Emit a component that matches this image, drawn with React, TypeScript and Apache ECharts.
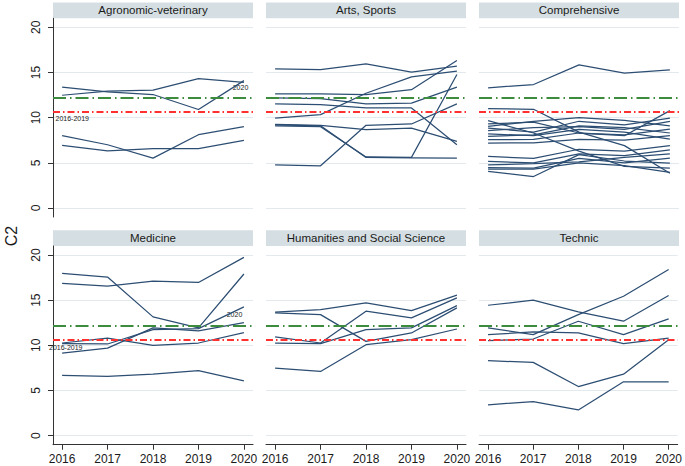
import React, { useEffect, useRef } from "react";
import * as echarts from "echarts";

const years = [2016, 2017, 2018, 2019, 2020];
const yTicks = [0, 5, 10, 15, 20];
const panelTitles = [
  "Agronomic-veterinary",
  "Arts, Sports",
  "Comprehensive",
  "Medicine",
  "Humanities and Social Science",
  "Technic",
];
const refGreen = 12.2;
const refRed = 10.6;

const agronomic = [
  [13.37, 12.85, 12.56, 10.9, 14.1],
  [12.48, 12.93, 13.04, 14.33, 13.9],
  [8.0, 7.0, 5.52, 8.11, 9.0],
  [6.93, 6.33, 6.56, 6.56, 7.48],
];

const arts = [
  [15.4, 15.33, 15.96, 15.04, 15.7],
  [12.63, 12.63, 12.55, 13.1, 16.33],
  [9.96, 10.33, 12.7, 14.52, 15.15],
  [12.19, 12.1, 11.52, 11.6, 13.37],
  [11.52, 11.44, 11.07, 11.07, 7.0],
  [9.2, 9.1, 5.6, 5.55, 5.52],
  [9.1, 9.0, 5.65, 5.6, 14.78],
  [9.25, 9.15, 8.67, 8.85, 7.37],
  [4.78, 4.67, 9.15, 9.3, 11.52],
];

const comprehensive = [
  [13.3, 13.67, 15.85, 14.93, 15.3],
  [11.0, 10.93, 8.4, 6.9, 3.85],
  [9.67, 8.3, 6.3, 4.6, 4.4],
  [9.3, 9.5, 8.3, 8.0, 10.78],
  [9.04, 9.6, 10.0, 9.7, 9.1],
  [8.85, 8.4, 9.6, 9.2, 9.96],
  [8.56, 8.9, 9.0, 8.7, 9.59],
  [8.2, 8.0, 8.7, 8.4, 7.63],
  [7.93, 8.1, 9.1, 8.9, 8.3],
  [7.56, 7.6, 8.3, 8.1, 8.74],
  [7.19, 7.2, 7.6, 7.5, 8.0],
  [5.7, 5.5, 6.5, 6.3, 6.89],
  [5.15, 5.0, 6.0, 5.8, 6.44],
  [4.78, 4.9, 5.1, 5.6, 6.0],
  [4.48, 4.4, 5.5, 5.0, 5.52],
  [4.04, 3.48, 5.9, 5.2, 4.96],
  [4.3, 4.3, 5.0, 4.7, 3.95],
];

const medicine = [
  [17.96, 17.56, 13.15, 11.93, 17.9],
  [16.85, 16.56, 17.1, 16.96, 19.74],
  [10.26, 10.81, 10.0, 10.26, 11.4],
  [9.15, 9.7, 11.93, 11.6, 12.52],
  [10.2, 10.15, 11.75, 11.85, 14.26],
  [6.67, 6.56, 6.81, 7.2, 6.07],
];

const humanities = [
  [13.67, 13.96, 14.7, 13.85, 15.56],
  [13.59, 13.4, 10.44, 11.37, 14.15],
  [10.93, 10.26, 13.78, 13.04, 15.26],
  [10.26, 10.19, 11.74, 11.93, 14.4],
  [7.48, 7.11, 10.07, 10.63, 11.81],
];

const technic = [
  [14.44, 15.0, 13.7, 12.67, 15.52],
  [11.93, 11.19, 13.4, 15.44, 18.4],
  [11.19, 11.48, 11.37, 10.19, 10.81],
  [10.52, 10.7, 12.67, 11.19, 12.93],
  [8.3, 8.11, 5.44, 6.81, 10.63],
  [3.41, 3.78, 2.85, 5.96, 5.96],
];

const panelData = [agronomic, arts, comprehensive, medicine, humanities, technic];

const FONT = "'Liberation Sans', Arial, sans-serif";
const GRID_LEFT = [53, 266, 479];
const GRID_TOP = [18.3, 246];
const GRID_W = 200;
const GRID_H = 198.7;
const HEADER_H = 15.8;
const LINE_COLOR = "#2d4e73";
const AXIS_COLOR = "#333333";

export default function App() {
  const ref = useRef<HTMLDivElement>(null);

  useEffect(() => {
    document.body.style.margin = "0";
    if (!ref.current) return;
    const chart = echarts.init(ref.current, undefined, { renderer: "svg" });

    const grids: any[] = [];
    const xAxes: any[] = [];
    const yAxes: any[] = [];
    const series: any[] = [];
    const graphics: any[] = [];

    for (let i = 0; i < 6; i++) {
      const col = i % 3;
      const row = Math.floor(i / 3);
      const left = GRID_LEFT[col];
      const top = GRID_TOP[row];
      const bottomRow = row === 1;
      const leftCol = col === 0;

      grids.push({ left, top, width: GRID_W, height: GRID_H, containLabel: false });

      xAxes.push({
        gridIndex: i,
        type: "value",
        min: 2015.8,
        max: 2020.2,
        axisLine: { show: bottomRow, onZero: false, lineStyle: { color: AXIS_COLOR, width: 1 } },
        axisTick: {
          show: bottomRow,
          customValues: years,
          length: 5,
          lineStyle: { color: AXIS_COLOR, width: 1 },
        },
        axisLabel: {
          show: bottomRow,
          customValues: years,
          fontSize: 12,
          fontFamily: FONT,
          color: "#1a1a1a",
          margin: 8,
          formatter: (v: number) => String(Math.round(v)),
        },
        splitLine: { show: false },
      });

      yAxes.push({
        gridIndex: i,
        type: "value",
        min: -1,
        max: 21,
        axisLine: { show: leftCol, onZero: false, lineStyle: { color: AXIS_COLOR, width: 1 } },
        axisTick: {
          show: leftCol,
          customValues: yTicks,
          length: 5,
          lineStyle: { color: AXIS_COLOR, width: 1 },
        },
        axisLabel: {
          show: leftCol,
          customValues: yTicks,
          rotate: 90,
          fontSize: 12,
          fontFamily: FONT,
          color: "#1a1a1a",
          margin: 11,
        },
        splitLine: { show: true, lineStyle: { color: "#e3eaed", width: 1 } },
      });

      panelData[i].forEach((vals, k) => {
        const s: any = {
          type: "line",
          xAxisIndex: i,
          yAxisIndex: i,
          data: years.map((y, j) => [y, vals[j]]),
          symbol: "none",
          silent: true,
          lineStyle: { color: LINE_COLOR, width: 1.25 },
          z: 3,
        };
        if (k === 0) {
          s.markLine = {
            silent: true,
            symbol: "none",
            label: { show: false },
            data: [
              {
                yAxis: refGreen,
                lineStyle: { color: "#3d8b3d", width: 2, type: [13, 4, 1.5, 4] },
              },
              {
                yAxis: refRed,
                lineStyle: { color: "#ff3030", width: 2, type: [7, 3, 1.5, 3] },
              },
            ],
          };
        }
        series.push(s);
      });

      graphics.push({
        type: "rect",
        shape: { x: left, y: top - HEADER_H, width: GRID_W, height: HEADER_H },
        style: { fill: "#d5dfe3" },
        silent: true,
      });
      graphics.push({
        type: "text",
        x: left + GRID_W / 2,
        y: top - HEADER_H / 2,
        style: {
          text: panelTitles[i],
          fontSize: 11.5,
          fontFamily: FONT,
          fill: "#1a1a1a",
          align: "center",
          verticalAlign: "middle",
        },
        silent: true,
      });
    }

    // annotations
    const anno = [
      { text: "2016-2019", x: 55.5, y: 118.5, align: "left" },
      { text: "2020", x: 240.5, y: 87, align: "center" },
      { text: "2016-2019", x: 49, y: 347.7, align: "left" },
      { text: "2020", x: 234.5, y: 314.7, align: "center" },
    ];
    anno.forEach((a) =>
      graphics.push({
        type: "text",
        x: a.x,
        y: a.y,
        z: 1,
        style: {
          text: a.text,
          fontSize: 7,
          fontFamily: FONT,
          fill: "#222222",
          align: a.align,
          verticalAlign: "middle",
        },
        silent: true,
      })
    );

    graphics.push({
      type: "text",
      x: 11,
      y: 236,
      rotation: Math.PI / 2,
      style: {
        text: "C2",
        fontSize: 16,
        fontFamily: FONT,
        fill: "#1a1a1a",
        align: "center",
        verticalAlign: "middle",
      },
      silent: true,
    });

    chart.setOption({
      animation: false,
      backgroundColor: "#ffffff",
      grid: grids,
      xAxis: xAxes,
      yAxis: yAxes,
      series,
      graphic: graphics,
    });

    return () => chart.dispose();
  }, []);

  return (
    <div
      ref={ref}
      style={{ position: "fixed", left: 0, top: 0, width: 685, height: 466 }}
    />
  );
}
